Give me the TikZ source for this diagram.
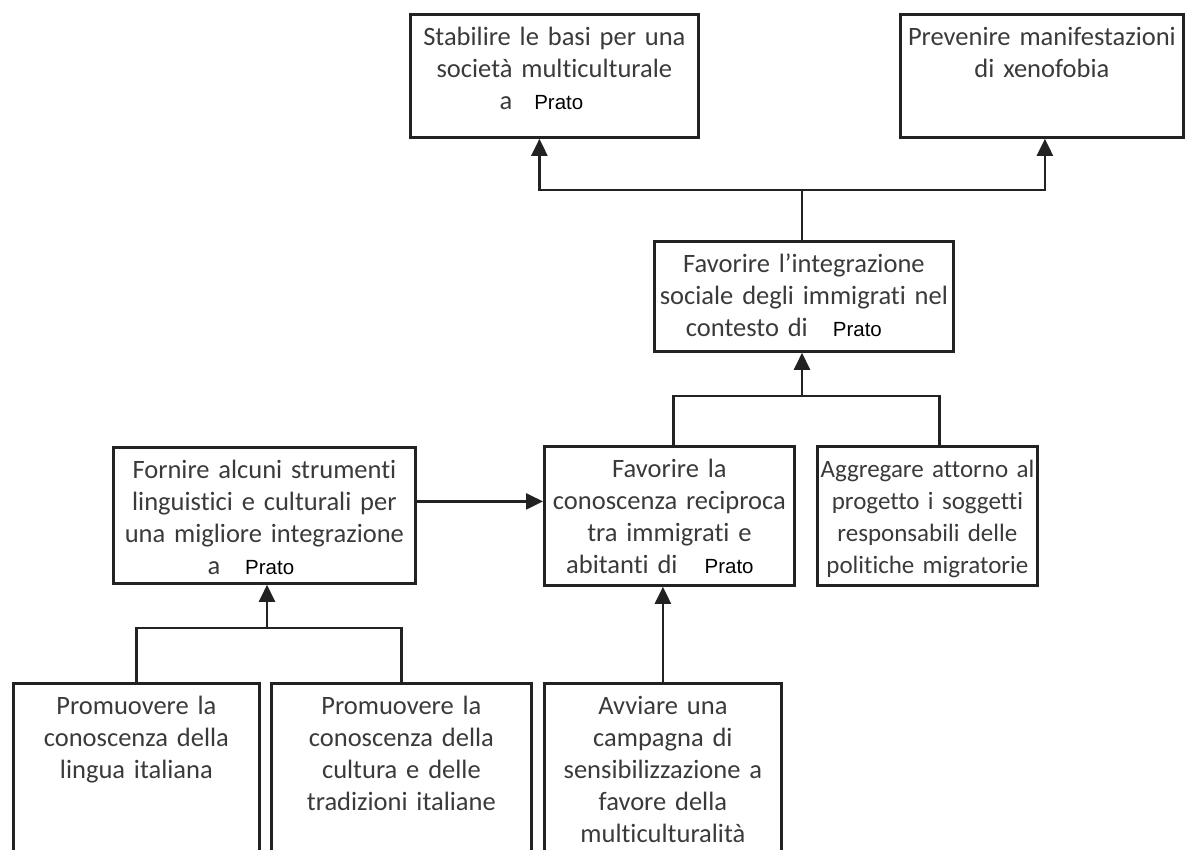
\documentclass[tikz,border=0pt]{standalone}
\usepackage{fontspec}
\usetikzlibrary{arrows.meta}
\newfontfamily\goalfont{Carlito}[Ligatures=NoCommon]
\newfontfamily\pratofont{Liberation Sans}
\definecolor{ink}{HTML}{222222}
\definecolor{txt}{HTML}{3A3A3A}
\newcommand{\prato}[1]{{\pratofont\fontsize{20.5}{32}\selectfont\color{black}#1}}

\begin{document}
\begin{tikzpicture}[x=1pt,y=-1pt,
    goal/.style={draw=ink,line width=2.8pt,anchor=north west,inner sep=0pt,align=center,
      text=txt,text height=31pt,font={\goalfont\fontsize{26.5}{32}\selectfont}},
    arr/.style={draw=ink,line width=2.4pt,-{Triangle[length=17pt,width=16pt]}},
    link/.style={draw=ink,line width=2.4pt}]
        \clip (0,0) rectangle (1186,850);
        \node[goal,text width=288pt,text depth=92pt] (stab) at (409,13)
          {Stabilire le basi per una\\società multiculturale\\a\hspace{22pt}\prato{Prato}\hspace*{26pt}};
        \node[goal,text width=283pt,text depth=92pt] (xeno) at (899,13)
          {Prevenire manifestazioni\\di xenofobia};
        \node[goal,text width=299pt,text depth=79pt] (integ) at (653,240)
          {Favorire l’integrazione\\sociale degli immigrati nel\\contesto di\hspace{25pt}\prato{Prato}\hspace*{40pt}};
        \node[goal,text width=302pt,text depth=105pt] (instr) at (112,446)
          {Fornire alcuni strumenti\\linguistici e culturali per\\una migliore integrazione\\a\hspace{25pt}\prato{Prato}\hspace*{27pt}};
        \node[goal,text width=250pt,text depth=108pt] (recip) at (543,445)
          {Favorire la\\conoscenza reciproca\\tra immigrati e\\abitanti di\hspace{27pt}\prato{Prato}\hspace*{19pt}};
        \node[goal,text width=220pt,text depth=108pt,font={\goalfont\fontsize{25}{32}\selectfont}] (aggr) at (816,445)
          {Aggregare attorno al\\progetto i soggetti\\responsabili delle\\politiche migratorie};
        \node[goal,text width=246pt,text depth=170pt] (lingua) at (12,682)
          {Promuovere la\\conoscenza della\\lingua italiana};
        \node[goal,text width=260pt,text depth=170pt] (cultura) at (270,682)
          {Promuovere la\\conoscenza della\\cultura e delle\\tradizioni italiane};
        \node[goal,text width=237pt,text depth=170pt] (campagna) at (543,682)
          {Avviare una\\campagna di\\sensibilizzazione a\\favore della\\multiculturalità};
        \coordinate (topj) at (802,190);
        \coordinate (midj) at (802,396);
        \coordinate (lowj) at (267,628);
        \draw[link] (topj |- integ.north) -- (topj);
        \draw[arr] (topj) -| ([xshift=-15pt]stab.south);
        \draw[arr] (topj) -| ([xshift=3pt]xeno.south);
        \draw[arr] (midj) -- (midj |- integ.south);
        \draw[link] (midj) -| ([xshift=4pt]recip.north);
        \draw[link] (midj) -| ([xshift=12pt]aggr.north);
        \draw[arr] ([yshift=14pt]instr.east) -- ([yshift=14pt]instr.east -| recip.west);
        \draw[arr] (lowj) -- (lowj |- instr.south);
        \draw[link] (lowj) -| (lingua.north);
        \draw[link] (lowj) -| (cultura.north);
        \draw[arr] (campagna.north) -- (campagna.north |- recip.south);
      \end{tikzpicture}
\end{document}
